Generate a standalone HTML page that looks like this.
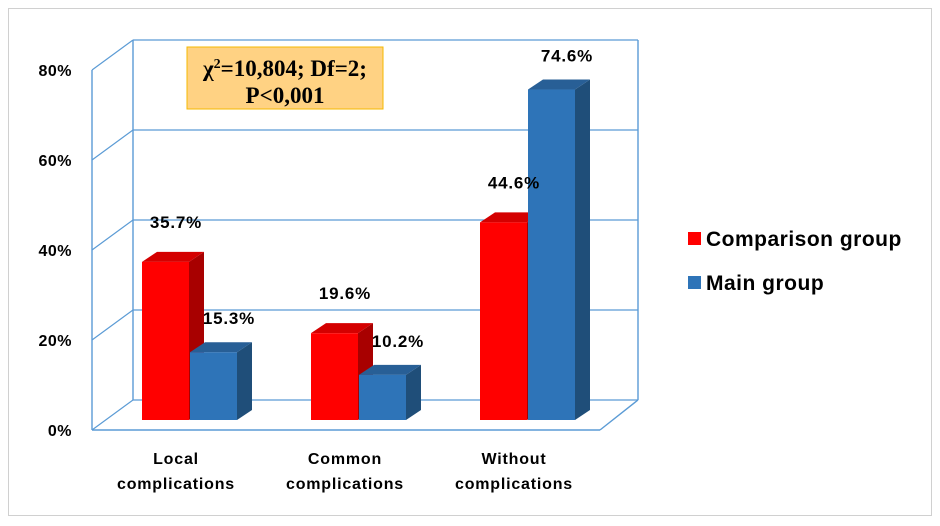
<!DOCTYPE html>
<html><head><meta charset="utf-8"><style>
body{margin:0;background:#fff}
svg{display:block;font-family:"Liberation Sans",sans-serif}
</style></head><body>
<svg width="940" height="526" viewBox="0 0 940 526">
<rect x="8.5" y="8.5" width="923" height="507" fill="#fff" stroke="#d0d0d0"/>
<g id="grid"></g>
<g id="bars"></g>
<g id="labels"></g>
<rect x="187" y="47" width="196" height="62" fill="#ffd283" stroke="#f5b800"/>
<text x="285" y="76" text-anchor="middle" font-family="Liberation Serif,serif" font-weight="bold" font-size="23">χ<tspan dy="-8" font-size="14">2</tspan><tspan dy="8">=10,804; Df=2;</tspan></text>
<text x="285" y="103" text-anchor="middle" font-family="Liberation Serif,serif" font-weight="bold" font-size="23">P&lt;0,001</text>
<rect x="688" y="232" width="13" height="13" fill="#ff0000"/>
<text x="706" y="246" font-weight="bold" font-size="21" letter-spacing="0.5">Comparison group</text>
<rect x="688" y="276" width="13" height="13" fill="#2e74b8"/>
<text x="706" y="290" font-weight="bold" font-size="21" letter-spacing="0.5">Main group</text>
</svg>
<script>
const categories=[["Local","complications"],["Common","complications"],["Without","complications"]];
const comparison=[35.7,19.6,44.6];
const mainGroup=[15.3,10.2,74.6];
const yTicks=[0,20,40,60,80];
const NS="http://www.w3.org/2000/svg";
function mk(tag,attrs,parent,txt){const e=document.createElementNS(NS,tag);for(const k in attrs)e.setAttribute(k,attrs[k]);if(txt!=null)e.textContent=txt;parent.appendChild(e);return e;}
const gridY=v=>430-v*4.5;
const barY=v=>420-v*4.43;
const grid=document.getElementById('grid'),bars=document.getElementById('bars'),labels=document.getElementById('labels');
const gc="#5b9bd5";
yTicks.forEach(t=>{
  const y=gridY(t);
  const l=mk('line',{x1:133,y1:y-30,x2:638,y2:y-30,stroke:gc,'stroke-width':1.2},grid);
  
  
  const d=mk('line',{x1:92,y1:y,x2:133,y2:y-30,stroke:gc,'stroke-width':1.2},grid);
  
  
  const tx=mk('text',{x:72,y:y+6,'text-anchor':'end','font-weight':'bold','font-size':16,'letter-spacing':0.5},labels,t+'%');
  
  
});
[[92,gridY(0),92,gridY(80)],[133,gridY(0)-30,133,gridY(80)-30],[638,gridY(0)-30,638,gridY(80)-30],[92,430,600,430],[600,430,638,400]].forEach((c,i)=>{
  const l=mk('line',{x1:c[0],y1:c[1],x2:c[2],y2:c[3],stroke:gc,'stroke-width':1.4},grid);
  
  
});
function bar(x,v,front,side,top,name){
  const g=mk('g',{},bars);
  
  
  const y=barY(v),w=47,dx=15,dy=10;
  mk('polygon',{points:`${x+w},${y} ${x+w+dx},${y-dy} ${x+w+dx},${420-dy} ${x+w},420`,fill:side},g);
  mk('polygon',{points:`${x},${y} ${x+dx},${y-dy} ${x+w+dx},${y-dy} ${x+w},${y}`,fill:top},g);
  mk('rect',{x:x,y:y,width:w,height:420-y,fill:front},g);
  return y;
}
categories.forEach((c,i)=>{
  const x0=142+i*169;
  const yr=bar(x0,comparison[i],"#ff0000","#a80000","#d40000",'bar-comparison-'+i);
  const yb=bar(x0+48,mainGroup[i],"#2e74b8","#1f4e79","#285f96",'bar-main-'+i);
  const t1=mk('text',{x:x0+34,y:yr-34,'text-anchor':'middle','font-weight':'bold','font-size':17,'letter-spacing':0.8},labels,comparison[i].toFixed(1)+'%');
  
  
  const t2=mk('text',{x:x0+87,y:yb-28,'text-anchor':'middle','font-weight':'bold','font-size':17,'letter-spacing':0.8},labels,mainGroup[i].toFixed(1)+'%');
  
  
  c.forEach((s,j)=>{
    const t=mk('text',{x:x0+34,y:464+j*25,'text-anchor':'middle','font-weight':'bold','font-size':16,'letter-spacing':0.8},labels,s);
    
    
  });
});
</script>
</body></html>
